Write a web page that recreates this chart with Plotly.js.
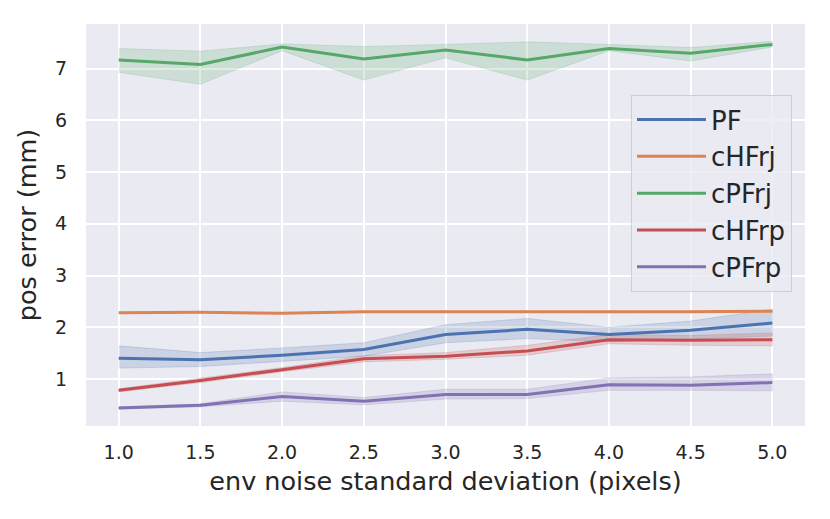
<!DOCTYPE html>
<html>
<head>
<meta charset="utf-8">
<script src="https://cdn.plot.ly/plotly-3.0.1.min.js"></script>
<style>html,body{margin:0;padding:0;background:#fff;}</style>
</head>
<body>
<div id="chart" style="width:830px;height:519px;"></div>
<script>
const xs = [1.0, 1.5, 2.0, 2.5, 3.0, 3.5, 4.0, 4.5, 5.0];
const xTickLabels = ['1.0','1.5','2.0','2.5','3.0','3.5','4.0','4.5','5.0'];
const yTicks = [1, 2, 3, 4, 5, 6, 7];
const seriesNames = ['PF', 'cHFrj', 'cPFrj', 'cHFrp', 'cPFrp'];

const pfMean = [1.40, 1.37, 1.46, 1.57, 1.86, 1.96, 1.86, 1.94, 2.08];
const pfLo   = [1.21, 1.24, 1.34, 1.44, 1.70, 1.78, 1.72, 1.77, 1.83];
const pfHi   = [1.64, 1.51, 1.60, 1.70, 2.05, 2.17, 2.00, 2.12, 2.35];

const chfrjMean = [2.28, 2.29, 2.27, 2.30, 2.30, 2.30, 2.29, 2.30, 2.31];
const chfrjLo   = [2.27, 2.28, 2.26, 2.29, 2.29, 2.29, 2.28, 2.29, 2.30];
const chfrjHi   = [2.29, 2.30, 2.28, 2.31, 2.31, 2.31, 2.30, 2.31, 2.32];

const cpfrjMean = [7.17, 7.08, 7.42, 7.19, 7.36, 7.17, 7.39, 7.30, 7.47];
const cpfrjLo   = [6.93, 6.70, 7.35, 6.78, 7.21, 6.78, 7.35, 7.15, 7.42];
const cpfrjHi   = [7.39, 7.34, 7.48, 7.43, 7.47, 7.52, 7.47, 7.41, 7.53];

const chfrpMean = [0.78, 0.97, 1.18, 1.39, 1.44, 1.54, 1.76, 1.75, 1.76];
const chfrpLo   = [0.75, 0.93, 1.14, 1.33, 1.38, 1.46, 1.68, 1.65, 1.64];
const chfrpHi   = [0.81, 1.01, 1.22, 1.45, 1.51, 1.65, 1.86, 1.84, 1.89];

const cpfrpMean = [0.44, 0.49, 0.66, 0.57, 0.70, 0.70, 0.89, 0.88, 0.93];
const cpfrpLo   = [0.42, 0.46, 0.57, 0.50, 0.61, 0.62, 0.78, 0.78, 0.77];
const cpfrpHi   = [0.46, 0.52, 0.75, 0.64, 0.80, 0.80, 1.02, 1.04, 1.10];

const colors = ['#4C72B0', '#DD8452', '#55A868', '#C44E52', '#8172B3'];
const fills  = ['rgba(76,114,176,0.2)', 'rgba(221,132,82,0.2)', 'rgba(85,168,104,0.2)', 'rgba(196,78,82,0.2)', 'rgba(129,114,179,0.2)'];

const means = [pfMean, chfrjMean, cpfrjMean, chfrpMean, cpfrpMean];
const los = [pfLo, chfrjLo, cpfrjLo, chfrpLo, cpfrpLo];
const his = [pfHi, chfrjHi, cpfrjHi, chfrpHi, cpfrpHi];

const traces = [];
for (let i = 0; i < seriesNames.length; i++) {
  traces.push({
    x: xs.concat(xs.slice().reverse()),
    y: his[i].concat(los[i].slice().reverse()),
    type: 'scatter', mode: 'lines', fill: 'toself',
    fillcolor: fills[i],
    line: {color: fills[i], width: 1},
    showlegend: false, hoverinfo: 'skip',
    legendgroup: 'g' + i
  });
}
for (let i = 0; i < seriesNames.length; i++) {
  traces.push({
    x: xs, y: means[i], name: seriesNames[i],
    type: 'scatter', mode: 'lines',
    line: {color: colors[i], width: 3},
    legendgroup: 'g' + i
  });
}

const font = {family: 'DejaVu Sans, sans-serif', color: '#262626'};
const layout = {
  width: 830, height: 519,
  margin: {l: 86, r: 25, t: 24, b: 93, pad: 0},
  paper_bgcolor: '#ffffff',
  plot_bgcolor: '#EAEAF2',
  font: font,
  showlegend: true,
  xaxis: {
    range: [0.8, 5.2],
    tickmode: 'array', tickvals: xs, ticktext: xTickLabels,
    showgrid: true, gridcolor: '#ffffff', gridwidth: 2,
    zeroline: false, showline: false, ticks: '',
    tickfont: {family: 'DejaVu Sans, sans-serif', size: 19, color: '#262626'},
    ticklabelstandoff: 13,
    title: {text: 'env noise standard deviation (pixels)', font: {family: 'DejaVu Sans, sans-serif', size: 25.5, color: '#262626'}, standoff: 10},
    automargin: false
  },
  yaxis: {
    range: [0.09, 7.865],
    tickmode: 'array', tickvals: yTicks,
    showgrid: true, gridcolor: '#ffffff', gridwidth: 2,
    zeroline: false, showline: false, ticks: '',
    tickfont: {family: 'DejaVu Sans, sans-serif', size: 19, color: '#262626'},
    ticklabelstandoff: 18,
    title: {text: 'pos error (mm)', font: {family: 'DejaVu Sans, sans-serif', size: 25.5, color: '#262626'}, standoff: 10},
    automargin: false
  },
  legend: {
    x: 0.758, y: 0.823, xanchor: 'left', yanchor: 'top',
    bgcolor: 'rgba(234,234,242,0.8)',
    bordercolor: 'rgba(204,204,204,0.9)', borderwidth: 1,
    font: {family: 'DejaVu Sans, sans-serif', size: 26, color: '#262626'},
    traceorder: 'grouped', tracegroupgap: 0,
    itemwidth: 69
  }
};

Plotly.newPlot('chart', traces, layout, {displayModeBar: false, staticPlot: true});
</script>
</body>
</html>
